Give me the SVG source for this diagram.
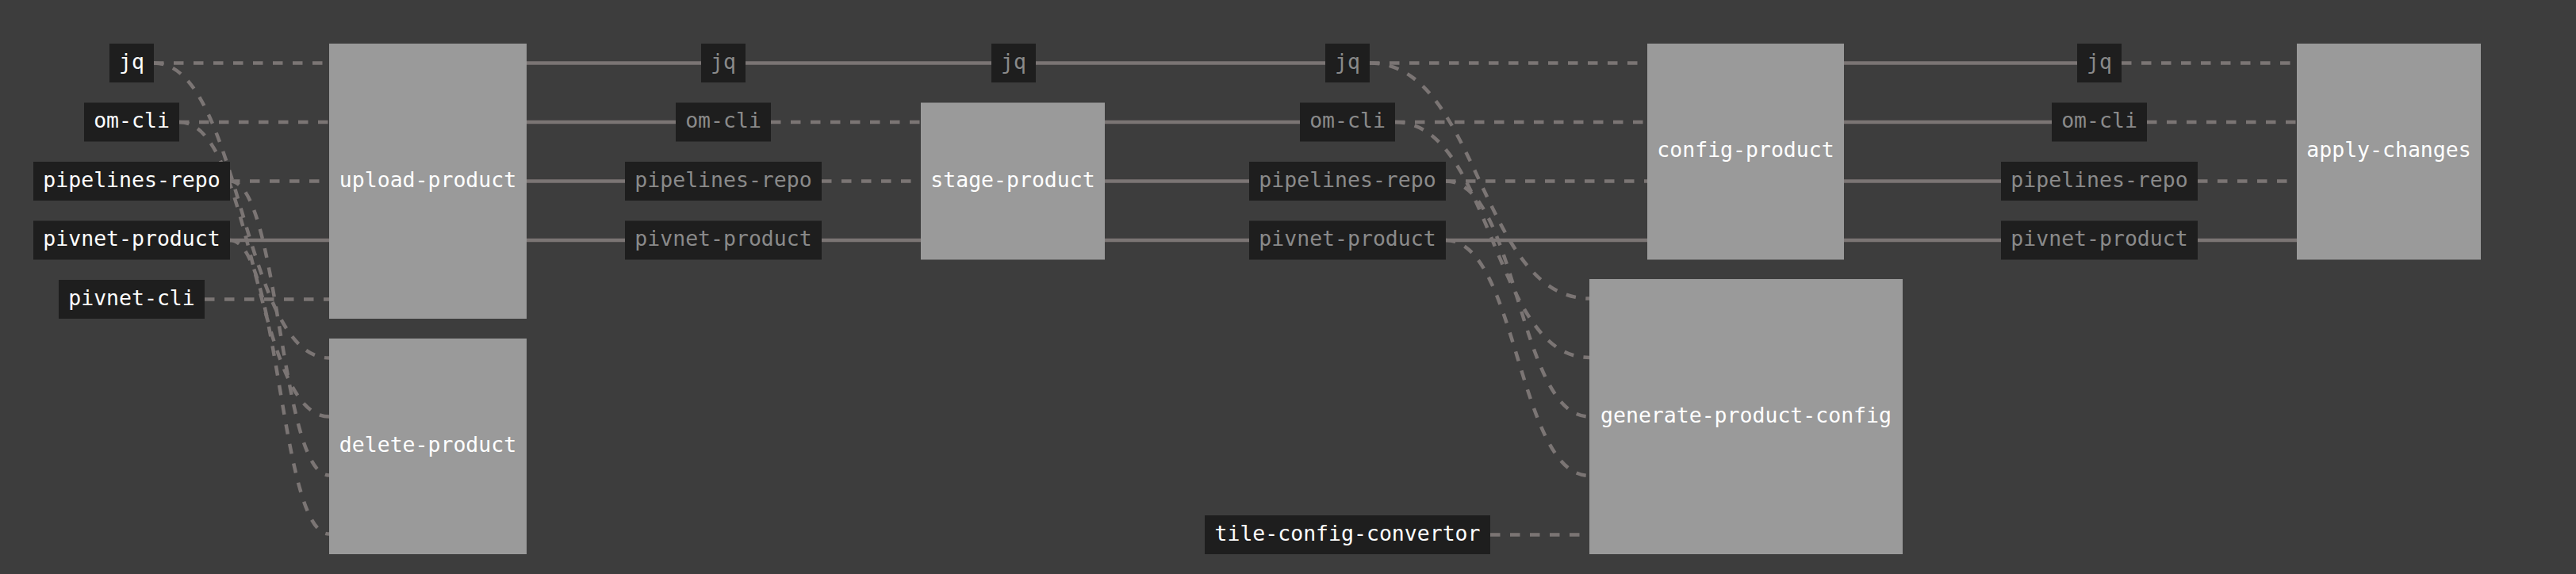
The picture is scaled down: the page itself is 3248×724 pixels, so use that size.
<svg xmlns="http://www.w3.org/2000/svg" width="3248" height="724" viewBox="0 0 3248 724">
<style>
.bg{fill:#3d3d3d}
.res rect{fill:#1e1e1e}
.res text{fill:#ffffff;font-family:"DejaVu Sans Mono","Liberation Mono",monospace;font-size:26.5px;text-anchor:middle}
.res.pass text{fill:#8a8a8a}
.job rect{fill:#9a9a9a}
.job text{fill:#ffffff;font-family:"DejaVu Sans Mono","Liberation Mono",monospace;font-size:26.5px;text-anchor:middle}
#connectors path{fill:none;stroke:#7b7574;stroke-width:4.5}
#connectors path.d{stroke-dasharray:12.5 12.5}
</style>
<rect class="bg" x="0" y="0" width="3248" height="724"/>
<g id="connectors">
<path class="d" d="M194 79.5H415"/>
<path class="d" d="M226 154H415"/>
<path class="d" d="M290 228.5H415"/>
<path d="M290 303H415"/>
<path class="d" d="M258 377.5H415"/>
<path class="d" d="M194 79.5C304.5 79.5 304.5 451.5 415 451.5"/>
<path class="d" d="M226 154C320.5 154 320.5 525.5 415 525.5"/>
<path class="d" d="M290 228.5C352.5 228.5 352.5 599.5 415 599.5"/>
<path class="d" d="M290 303C352.5 303 352.5 673.5 415 673.5"/>
<path d="M664 79.5H884"/>
<path d="M664 154H852"/>
<path d="M664 228.5H788"/>
<path d="M664 303H788"/>
<path d="M940 79.5H1250"/>
<path class="d" d="M972 154H1161"/>
<path class="d" d="M1036 228.5H1161"/>
<path d="M1036 303H1161"/>
<path d="M1306 79.5H1671"/>
<path d="M1393 154H1639"/>
<path d="M1393 228.5H1575"/>
<path d="M1393 303H1575"/>
<path class="d" d="M1727 79.5H2077"/>
<path class="d" d="M1759 154H2077"/>
<path class="d" d="M1823 228.5H2077"/>
<path d="M1823 303H2077"/>
<path class="d" d="M1727 79.5C1865.5 79.5 1865.5 376.5 2004 376.5"/>
<path class="d" d="M1759 154C1881.5 154 1881.5 451 2004 451"/>
<path class="d" d="M1823 228.5C1913.5 228.5 1913.5 525.5 2004 525.5"/>
<path class="d" d="M1823 303C1913.5 303 1913.5 600 2004 600"/>
<path class="d" d="M1879 674.5H2004"/>
<path d="M2325 79.5H2619"/>
<path d="M2325 154H2587"/>
<path d="M2325 228.5H2523"/>
<path d="M2325 303H2523"/>
<path class="d" d="M2675 79.5H2896"/>
<path class="d" d="M2707 154H2896"/>
<path class="d" d="M2771 228.5H2896"/>
<path d="M2771 303H2896"/>
</g>
<g id="res-jq" class="res"><rect x="138" y="55" width="56" height="49"/><text x="166" y="86.5">jq</text></g>
<g id="res-om-cli" class="res"><rect x="106" y="129.5" width="120" height="49"/><text x="166" y="161">om-cli</text></g>
<g id="res-pipelines-repo" class="res"><rect x="42" y="204" width="248" height="49"/><text x="166" y="235.5">pipelines-repo</text></g>
<g id="res-pivnet-product" class="res"><rect x="42" y="278.5" width="248" height="49"/><text x="166" y="310">pivnet-product</text></g>
<g id="res-pivnet-cli" class="res"><rect x="74" y="353" width="184" height="49"/><text x="166" y="384.5">pivnet-cli</text></g>
<g id="res-tile-config-convertor" class="res"><rect x="1519" y="650" width="360" height="49"/><text x="1699" y="681.5">tile-config-convertor</text></g>

<g id="pass-jq-1" class="res pass"><rect x="884" y="55" width="56" height="49"/><text x="912" y="86.5">jq</text></g>
<g id="pass-om-cli-1" class="res pass"><rect x="852" y="129.5" width="120" height="49"/><text x="912" y="161">om-cli</text></g>
<g id="pass-pipelines-repo-1" class="res pass"><rect x="788" y="204" width="248" height="49"/><text x="912" y="235.5">pipelines-repo</text></g>
<g id="pass-pivnet-product-1" class="res pass"><rect x="788" y="278.5" width="248" height="49"/><text x="912" y="310">pivnet-product</text></g>
<g id="pass-jq-2" class="res pass"><rect x="1250" y="55" width="56" height="49"/><text x="1278" y="86.5">jq</text></g>

<g id="pass-jq-3" class="res pass"><rect x="1671" y="55" width="56" height="49"/><text x="1699" y="86.5">jq</text></g>
<g id="pass-om-cli-3" class="res pass"><rect x="1639" y="129.5" width="120" height="49"/><text x="1699" y="161">om-cli</text></g>
<g id="pass-pipelines-repo-3" class="res pass"><rect x="1575" y="204" width="248" height="49"/><text x="1699" y="235.5">pipelines-repo</text></g>
<g id="pass-pivnet-product-3" class="res pass"><rect x="1575" y="278.5" width="248" height="49"/><text x="1699" y="310">pivnet-product</text></g>

<g id="pass-jq-4" class="res pass"><rect x="2619" y="55" width="56" height="49"/><text x="2647" y="86.5">jq</text></g>
<g id="pass-om-cli-4" class="res pass"><rect x="2587" y="129.5" width="120" height="49"/><text x="2647" y="161">om-cli</text></g>
<g id="pass-pipelines-repo-4" class="res pass"><rect x="2523" y="204" width="248" height="49"/><text x="2647" y="235.5">pipelines-repo</text></g>
<g id="pass-pivnet-product-4" class="res pass"><rect x="2523" y="278.5" width="248" height="49"/><text x="2647" y="310">pivnet-product</text></g>

<g id="job-upload-product" class="job"><rect x="415" y="55" width="249" height="347"/><text x="539.5" y="235.5">upload-product</text></g>
<g id="job-delete-product" class="job"><rect x="415" y="427" width="249" height="272"/><text x="539.5" y="570">delete-product</text></g>
<g id="job-stage-product" class="job"><rect x="1161" y="129.5" width="232" height="198"/><text x="1277" y="235.5">stage-product</text></g>
<g id="job-config-product" class="job"><rect x="2077" y="55" width="248" height="272.5"/><text x="2201" y="198">config-product</text></g>
<g id="job-generate-product-config" class="job"><rect x="2004" y="352" width="395" height="347"/><text x="2201.5" y="532.5">generate-product-config</text></g>
<g id="job-apply-changes" class="job"><rect x="2896" y="55" width="232" height="272.5"/><text x="3012" y="198">apply-changes</text></g>
</svg>
